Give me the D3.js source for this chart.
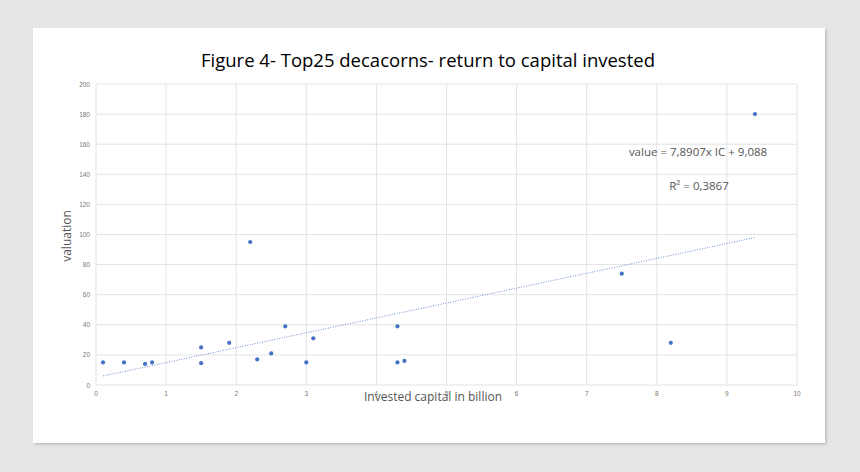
<!DOCTYPE html>
<html><head><meta charset="utf-8">
<script src="https://cdn.jsdelivr.net/npm/d3@7"></script>
<style>
html,body{margin:0;padding:0;background:#e5e5e5;}
svg{display:block;}
</style></head>
<body>
<script>
const investedCapital = [0.1,0.4,0.7,0.8,1.5,1.5,1.9,2.2,2.3,2.5,2.7,3.0,3.1,4.3,4.3,4.4,7.5,8.2,9.4];
const valuation       = [15,15,14,15,25,14.5,28,95,17,21,39,15,31,39,15,16,74,28,180];
const xTicks = [0,1,2,3,4,5,6,7,8,9,10];
const yTicks = [0,20,40,60,80,100,120,140,160,180,200];
const title = "Figure 4- Top25 decacorns- return to capital invested";
const xLabel = "Invested capital in billion";
const yLabel = "valuation";
const eqLabel = "value = 7,8907x IC + 9,088";
const r2Label = "R² = 0,3867";

const W=860,H=472;
const svg=d3.select("body").append("svg").attr("width",W).attr("height",H);
const defs=svg.append("defs");
const f=defs.append("filter").attr("id","sh").attr("x","-5%").attr("y","-5%").attr("width","110%").attr("height","110%");
f.append("feDropShadow").attr("dx",1.5).attr("dy",1.5).attr("stdDeviation",1.2).attr("flood-color","#000").attr("flood-opacity",0.18);
svg.append("rect").attr("x",33).attr("y",28).attr("width",792).attr("height",415).attr("fill","#fff").attr("filter","url(#sh)");

const x=d3.scaleLinear().domain([0,10]).range([96,797]);
const y=d3.scaleLinear().domain([0,200]).range([385,84]);

const g=svg.append("g");
g.selectAll("line.v").data(xTicks).join("line").attr("class","v")
 .attr("x1",d=>x(d)).attr("x2",d=>x(d)).attr("y1",y(0)).attr("y2",y(200))
 .attr("stroke","#e3e3e3").attr("stroke-width",1);
g.selectAll("line.h").data(yTicks).join("line").attr("class","h")
 .attr("x1",x(0)).attr("x2",x(10)).attr("y1",d=>y(d)).attr("y2",d=>y(d))
 .attr("stroke","#e3e3e3").attr("stroke-width",1);

g.selectAll("text.yt").data(yTicks).join("text").attr("class","yt")
 .attr("x",x(0)-6).attr("y",d=>y(d)+2.5).attr("text-anchor","end")
 .attr("font-family","Liberation Sans, Arial, sans-serif").attr("font-size",6.5).attr("fill","#777")
 .text(d=>d);
g.selectAll("text.xt").data(xTicks).join("text").attr("class","xt")
 .attr("x",d=>x(d)).attr("y",y(0)+11).attr("text-anchor","middle")
 .attr("font-family","Liberation Sans, Arial, sans-serif").attr("font-size",6.5).attr("fill","#777")
 .text(d=>d);

// regression from data
const n=investedCapital.length;
const mx=d3.mean(investedCapital), my=d3.mean(valuation);
let sxy=0,sxx=0;
for(let i=0;i<n;i++){sxy+=(investedCapital[i]-mx)*(valuation[i]-my);sxx+=(investedCapital[i]-mx)**2;}
const slope=sxy/sxx, icpt=my-slope*mx;
const [x0,x1]=d3.extent(investedCapital);
g.append("line").attr("x1",x(x0)).attr("x2",x(x1)).attr("y1",y(icpt+slope*x0)).attr("y2",y(icpt+slope*x1))
 .attr("stroke","#6f8fd6").attr("stroke-width",1).attr("stroke-dasharray","1,1.5");

g.selectAll("circle").data(investedCapital.map((v,i)=>[v,valuation[i]])).join("circle")
 .attr("cx",d=>x(d[0])).attr("cy",d=>y(d[1])).attr("r",2.1).attr("fill","#4472c4");

svg.append("text").attr("x",428).attr("y",67).attr("text-anchor","middle")
 .attr("font-family","Open Sans, sans-serif").attr("font-size",18.5).attr("fill","#000").text(title);
svg.append("text").attr("transform","translate(71,236) rotate(-90)").attr("text-anchor","middle")
 .attr("font-family","Open Sans, sans-serif").attr("font-size",12).attr("fill","#555").text(yLabel);
svg.append("text").attr("x",433).attr("y",401).attr("text-anchor","middle")
 .attr("font-family","Open Sans, sans-serif").attr("font-size",12).attr("fill","#555").text(xLabel);
svg.append("text").attr("x",698).attr("y",156).attr("text-anchor","middle")
 .attr("font-family","Open Sans, sans-serif").attr("font-size",11.5).attr("fill","#555").text(eqLabel);
svg.append("text").attr("x",699).attr("y",190).attr("text-anchor","middle")
 .attr("font-family","Open Sans, sans-serif").attr("font-size",11.5).attr("fill","#555").text(r2Label);
</script>
</body></html>
